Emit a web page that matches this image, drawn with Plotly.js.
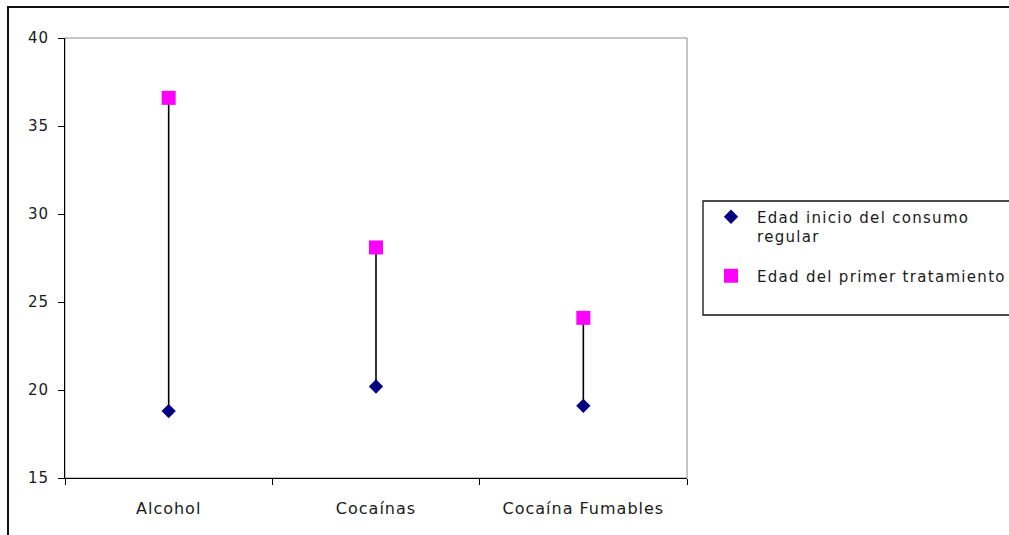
<!DOCTYPE html>
<html>
<head>
<meta charset="utf-8">
<script src="https://cdn.plot.ly/plotly-3.0.1.min.js"></script>
<style>
  html, body { margin: 0; padding: 0; background: #ffffff; }
  #chart { width: 1009px; height: 535px; }
  /* slightly open lettering for the labels */
  .xtick text, .ytick text { letter-spacing: 1px; }
  .legendtext { letter-spacing: 1.3px; }
  /* let the legend labels run to the edge of the figure */
  .legend .scrollbox { clip-path: none !important; }
</style>
</head>
<body>
<div id="chart"></div>
<script>
// Substance categories
const categories = ['Alcohol', 'Cocaínas', 'Cocaína Fumables'];
// Age at onset of regular use
const edadInicio = [18.8, 20.2, 19.1];
// Age at first treatment
const edadTratamiento = [36.6, 28.1, 24.1];
// Y axis ticks
const yTicks = [15, 20, 25, 30, 35, 40];

const serieInicio = 'Edad inicio del consumo<br>regular';
const serieTratamiento = 'Edad del primer tratamiento';

const FAMILY = 'DejaVu Sans, Arial, sans-serif';
const INK = '#1a1a1a';

// Vertical connectors between the two ages of each category
const connX = [];
const connY = [];
categories.forEach((c, i) => {
  connX.push(c, c, null);
  connY.push(edadInicio[i], edadTratamiento[i], null);
});

const traces = [
  {
    type: 'scatter', mode: 'lines',
    x: connX, y: connY,
    line: { color: '#000000', width: 1.6 },
    showlegend: false, hoverinfo: 'skip'
  },
  {
    type: 'scatter', mode: 'markers',
    name: serieInicio, legendgroup: 'a',
    x: categories, y: edadInicio,
    marker: { symbol: 'diamond', size: 11, color: '#000080', line: { width: 0 } }
  },
  {
    type: 'scatter', mode: 'markers',
    name: serieTratamiento, legendgroup: 'b',
    x: categories, y: edadTratamiento,
    marker: { symbol: 'square', size: 14, color: '#FF00FF', line: { width: 0 } }
  }
];

const W = 1009, H = 535;
const mL = 65, mR = 322, mT = 38, mB = 57;
const pw = W - mL - mR, ph = H - mT - mB;
const px = v => (v - mL) / pw;          // pixel -> paper x
const py = v => (H - mB - v) / ph;      // pixel -> paper y

const layout = {
  width: W, height: H,
  margin: { l: mL, r: mR, t: mT, b: mB, pad: 0, autoexpand: false },
  paper_bgcolor: '#ffffff',
  plot_bgcolor: '#ffffff',
  font: { family: FAMILY, size: 15, color: INK },
  showlegend: true,
  legend: {
    x: px(705), xanchor: 'left',
    y: py(200.5), yanchor: 'top',
    bgcolor: 'rgba(0,0,0,0)',
    borderwidth: 0,
    valign: 'top',
    tracegroupgap: 17,
    itemwidth: 42,
    font: { family: FAMILY, size: 15, color: INK }
  },
  xaxis: {
    type: 'category',
    categoryorder: 'array', categoryarray: categories,
    range: [-0.5, categories.length - 0.5],
    tickson: 'boundaries',
    ticks: 'outside', ticklen: 6, tickwidth: 1, tickcolor: '#000000',
    showline: true, linecolor: '#000000', linewidth: 1,
    showgrid: false, zeroline: false,
    ticklabelstandoff: 16,
    tickfont: { family: FAMILY, size: 16, color: INK },
    fixedrange: true
  },
  yaxis: {
    range: [15, 40],
    tickvals: yTicks,
    ticks: 'outside', ticklen: 6, tickwidth: 1, tickcolor: '#000000',
    showline: true, linecolor: '#000000', linewidth: 1,
    showgrid: false, zeroline: false,
    ticklabelstandoff: 6,
    tickfont: { family: FAMILY, size: 15, color: INK },
    fixedrange: true
  },
  shapes: [
    // grey frame of the plot area
    { type: 'rect', xref: 'paper', yref: 'paper', x0: 0, x1: 1, y0: 0, y1: 1,
      line: { color: '#8c8c8c', width: 1 }, layer: 'below' },
    // legend box
    { type: 'rect', xref: 'paper', yref: 'paper',
      x0: px(703), x1: px(1030), y0: py(315), y1: py(201),
      line: { color: '#111111', width: 1.3 } },
    // outer chart frame
    { type: 'rect', xref: 'paper', yref: 'paper',
      x0: px(8), x1: px(1040), y0: py(560), y1: py(7),
      line: { color: '#111111', width: 2 } }
  ]
};

Plotly.newPlot('chart', traces, layout, { staticPlot: true, displayModeBar: false });
</script>
</body>
</html>
